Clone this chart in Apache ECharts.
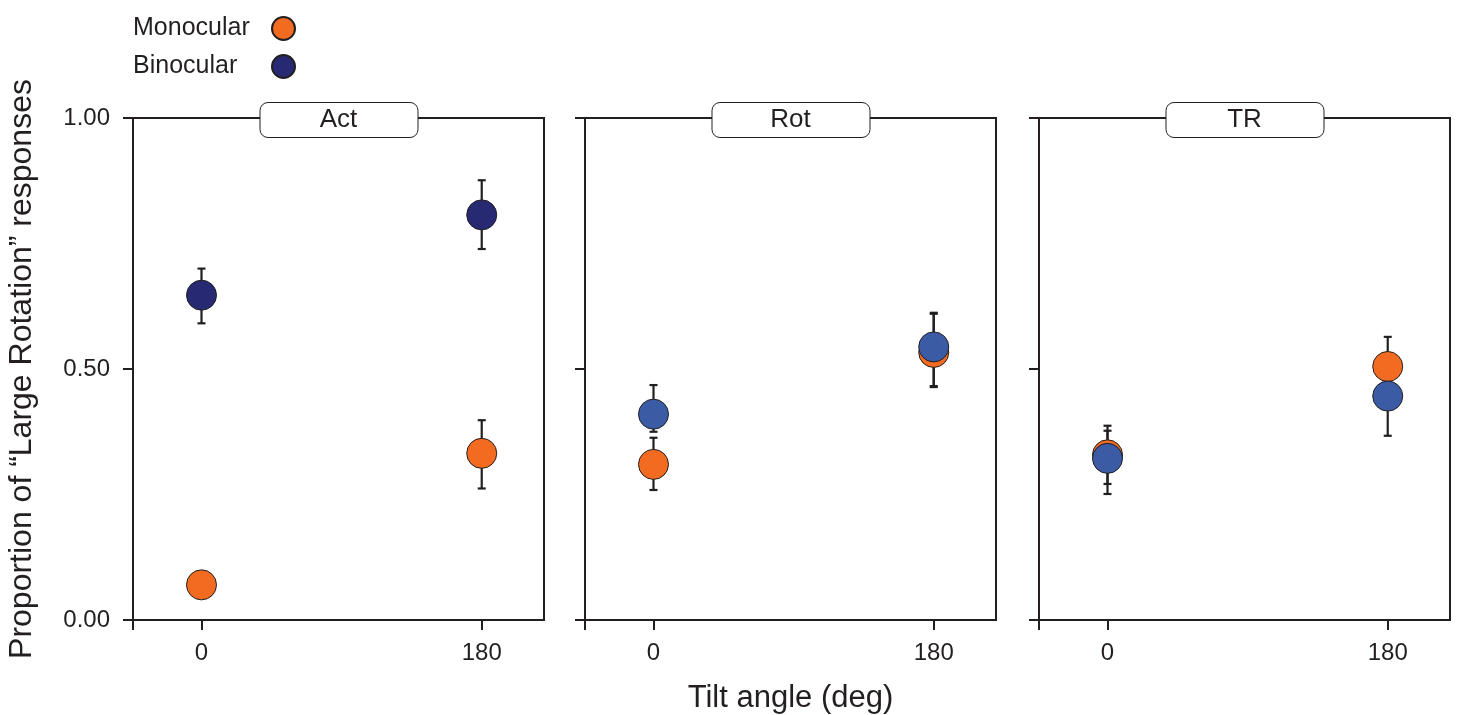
<!DOCTYPE html>
<html>
<head>
<meta charset="utf-8">
<script src="https://cdn.jsdelivr.net/npm/echarts@6/dist/echarts.min.js"></script>
<style>
  html, body { margin: 0; padding: 0; background: #fff; }
  #chart { width: 1458px; height: 715px; }
</style>
</head>
<body>
<div id="chart"></div>
<script>
// data
var tilts = [0, 180];
var panels = ['Act', 'Rot', 'TR'];
var monoMean = [[0.070, 0.332], [0.310, 0.533], [0.329, 0.505]];
var monoLow  = [[0.055, 0.262], [0.259, 0.464], [0.251, 0.446]];
var monoHigh = [[0.085, 0.398], [0.363, 0.610], [0.387, 0.564]];
var binoMean = [[0.647, 0.807], [0.410, 0.544], [0.322, 0.446]];
var binoLow  = [[0.591, 0.739], [0.375, 0.466], [0.271, 0.367]];
var binoHigh = [[0.700, 0.876], [0.468, 0.612], [0.377, 0.525]];

var orange = '#f36b21';
var binoColors = ['#272a72', '#3b5ba5', '#3b5ba5'];
var ink = '#231f20';
var font = 'Liberation Sans';

var gridLeft = [133, 585, 1039];
var gridWidth = 411;
var gridTop = 118;
var gridBottom = 95;

var chartDom = document.getElementById('chart');
var myChart = echarts.init(chartDom);

function errorBars(api) {
  var x = api.value(0);
  var lo = api.coord([x, api.value(1)]);
  var hi = api.coord([x, api.value(2)]);
  var cap = 4;
  var style = { stroke: ink, lineWidth: 2.2 };
  return {
    type: 'group',
    children: [
      { type: 'line', shape: { x1: lo[0], y1: lo[1], x2: hi[0], y2: hi[1] }, style: style },
      { type: 'line', shape: { x1: lo[0] - cap, y1: lo[1], x2: lo[0] + cap, y2: lo[1] }, style: style },
      { type: 'line', shape: { x1: hi[0] - cap, y1: hi[1], x2: hi[0] + cap, y2: hi[1] }, style: style }
    ]
  };
}

var grids = [], xAxes = [], yAxes = [], series = [], graphics = [];
for (var i = 0; i < panels.length; i++) {
  grids.push({
    left: gridLeft[i], width: gridWidth, top: gridTop, bottom: gridBottom,
    outerBoundsMode: 'none', containLabel: false,
    show: true, borderColor: ink, borderWidth: 2, backgroundColor: 'transparent'
  });
  xAxes.push({
    gridIndex: i, type: 'value', min: -44, max: 220,
    axisLine: { show: true, onZero: false, lineStyle: { color: ink, width: 2 } },
    axisTick: { show: true, length: 10, customValues: [-44, 0, 180], lineStyle: { color: ink, width: 2 } },
    axisLabel: { customValues: tilts, margin: 21, fontSize: 24, color: ink, fontFamily: font },
    splitLine: { show: false },
    name: i === 1 ? 'Tilt angle (deg)' : '',
    nameLocation: 'middle', nameGap: 63,
    nameTextStyle: { fontSize: 31, color: ink, fontFamily: font }
  });
  yAxes.push({
    gridIndex: i, type: 'value', min: 0, max: 1, interval: 0.5,
    axisLine: { show: true, onZero: false, lineStyle: { color: ink, width: 2 } },
    axisTick: { show: true, length: 10, lineStyle: { color: ink, width: 2 } },
    axisLabel: {
      show: i === 0, margin: 23, fontSize: 24, color: ink, fontFamily: font,
      formatter: function (v) { return v.toFixed(2); }
    },
    splitLine: { show: false },
    name: i === 0 ? 'Proportion of “Large Rotation” responses' : '',
    nameLocation: 'middle', nameGap: 95,
    nameTextStyle: { fontSize: 32, color: ink, fontFamily: font }
  });

  var monoErr = [], binoErr = [], monoPts = [], binoPts = [];
  for (var j = 0; j < tilts.length; j++) {
    monoErr.push([tilts[j], monoLow[i][j], monoHigh[i][j]]);
    binoErr.push([tilts[j], binoLow[i][j], binoHigh[i][j]]);
    monoPts.push([tilts[j], monoMean[i][j]]);
    binoPts.push([tilts[j], binoMean[i][j]]);
  }
  series.push({
    type: 'custom', xAxisIndex: i, yAxisIndex: i, silent: true,
    renderItem: function (params, api) { return errorBars(api); },
    encode: { x: 0, y: [1, 2] }, data: monoErr, z: 1
  });
  series.push({
    type: 'custom', xAxisIndex: i, yAxisIndex: i, silent: true,
    renderItem: function (params, api) { return errorBars(api); },
    encode: { x: 0, y: [1, 2] }, data: binoErr, z: 1
  });
  series.push({
    name: 'Monocular', type: 'scatter', xAxisIndex: i, yAxisIndex: i,
    symbolSize: 30, data: monoPts, z: 2,
    itemStyle: { color: orange, borderColor: ink, borderWidth: 1, opacity: 1 }
  });
  series.push({
    name: 'Binocular', type: 'scatter', xAxisIndex: i, yAxisIndex: i,
    symbolSize: 30, data: binoPts, z: 3,
    itemStyle: { color: binoColors[i], borderColor: ink, borderWidth: 1, opacity: 1 }
  });

  // strip label box
  var cx = gridLeft[i] + gridWidth / 2;
  graphics.push({
    type: 'rect', left: cx - 79, top: 102, z: 10,
    shape: { width: 158, height: 35, r: 8 },
    style: { fill: '#fff', stroke: ink, lineWidth: 1 }
  });
  graphics.push({
    type: 'text', x: cx, y: 120, z: 11,
    style: { text: panels[i], fontSize: 26, fontFamily: font, fill: ink, align: 'center', verticalAlign: 'middle' }
  });
}

var option = {
  backgroundColor: '#fff',
  animation: false,
  textStyle: { fontFamily: font },
  legend: {
    data: ['Monocular', 'Binocular'],
    orient: 'vertical', left: 128, top: 11,
    align: 'right', icon: 'circle',
    itemWidth: 23, itemHeight: 23, itemGap: 13,
    formatter: '{a|{name}}',
    textStyle: {
      fontSize: 25, color: ink, fontFamily: font,
      rich: { a: { width: 134, align: 'left', fontSize: 25, color: ink, fontFamily: font } }
    },
    selectedMode: false
  },
  grid: grids,
  xAxis: xAxes,
  yAxis: yAxes,
  series: series,
  graphic: graphics
};
myChart.setOption(option);
</script>
</body>
</html>
